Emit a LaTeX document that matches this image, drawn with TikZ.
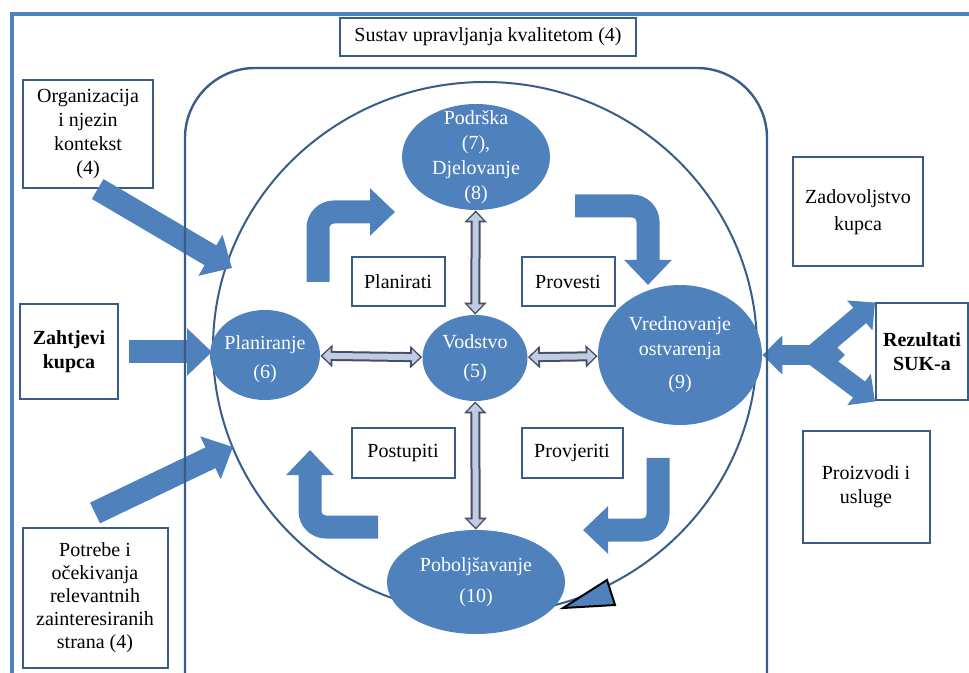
\documentclass[tikz,border=0pt]{standalone}
\usepackage{fontspec}
\setmainfont{Liberation Serif}
\usetikzlibrary{arrows.meta}
\usetikzlibrary{shapes.geometric}
\tikzset{>=latex}
\definecolor{qmsblue}{RGB}{79,129,189}
\definecolor{qmsdark}{RGB}{56,93,138}
\definecolor{qmslight}{RGB}{190,205,228}
\definecolor{qmsgrey}{RGB}{70,78,98}
\tikzstyle{textbox}=[draw=qmsdark,line width=1pt,fill=white,align=center,inner sep=2pt,font=\fontsize{10}{12}\selectfont]
\tikzstyle{boldbox}=[textbox,font=\fontsize{10}{12}\selectfont\bfseries]
\tikzstyle{bubble}=[ellipse,fill=qmsblue,inner sep=0pt]
\tikzstyle{bubbletext}=[text=white,align=center,font=\fontsize{10}{12.5}\selectfont]
\tikzstyle{fatarrow}=[draw=qmsblue,line width=11.5pt,-{Triangle[width=23pt,length=12.5pt]}]
\tikzstyle{forkarrow}=[draw=qmsblue,line width=10pt,-{Triangle[width=19pt,length=10pt]}]
\tikzstyle{thinout}=[draw=qmsgrey,line width=5pt,{Triangle[width=11pt,length=6pt]}-{Triangle[width=11pt,length=6pt]}]
\tikzstyle{thinin}=[draw=qmslight,line width=3pt,shorten <=1.1pt,shorten >=1.1pt,{Triangle[width=7.5pt,length=4pt]}-{Triangle[width=7.5pt,length=4pt]}]

\begin{document}
\begin{tikzpicture}[x=0.5pt,y=-0.5pt]
    \fill[white] (0,0) rectangle (969,673);
    \useasboundingbox (0,0) rectangle (969,673);

    % Outer frame and the big cycle
    \draw[qmsblue,line width=2pt] (969,14) -- (12,14) -- (12,673);
    \draw[qmsdark,line width=1pt] (485,348) ellipse [x radius=136pt,y radius=133pt];
    \filldraw[fill=qmsblue,draw=black,line width=1pt] (563,608) -- (607,580) -- (615,605) -- cycle;

    % Boxes
    \node[textbox,minimum width=148pt,minimum height=19pt] (sustav) at (488,37) {Sustav upravljanja kvalitetom (4)};
    \node[textbox,minimum width=65pt,minimum height=54pt] (org) at (88,134) {Organizacija\\i njezin\\kontekst\\(4)};
    \node[boldbox,minimum width=49pt,minimum height=47.5pt] (zahtjevi) at (69,352) {Zahtjevi\\kupca};
    \node[textbox,minimum width=72.5pt,minimum height=70pt,font=\fontsize{10}{11.5}\selectfont] (potrebe) at (95,598) {Potrebe i\\očekivanja\\relevantnih\\zainteresiranih\\strana (4)};
    \node[textbox,minimum width=65pt,minimum height=54.5pt,font=\fontsize{10}{13.5}\selectfont] (zadovoljstvo) at (858,212) {Zadovoljstvo\\kupca};
    \node[boldbox,minimum width=46pt,minimum height=48.5pt] (rezultati) at (922,352) {Rezultati\\SUK-a};
    \node[textbox,minimum width=63.5pt,minimum height=55.5pt] (proizvodi) at (866,487) {Proizvodi i\\usluge};
    \node[textbox,minimum width=46.5pt,minimum height=24.5pt] (planirati) at (398,282) {Planirati};
    \node[textbox,minimum width=46.5pt,minimum height=24.5pt] (provesti) at (568,282) {Provesti};
    \node[textbox,minimum width=51.5pt,minimum height=25pt] (postupiti) at (403,453) {Postupiti};
    \node[textbox,minimum width=50.5pt,minimum height=25pt] (provjeriti) at (572,453) {Provjeriti};

    % Ellipses
    \node[bubble,minimum width=74pt,minimum height=53pt,label={[bubbletext]center:{Podrška\\(7),\\Djelovanje\\(8)}}] (podrska) at (476,157) {};
    \node[bubble,minimum width=55pt,minimum height=45pt,label={[bubbletext,yshift=-2pt]center:{Planiranje\\[2pt](6)}}] (planiranje) at (265,355) {};
    \node[bubble,minimum width=52.5pt,minimum height=43pt,label={[bubbletext]center:{Vodstvo\\[2pt](5)}}] (vodstvo) at (475,358) {};
    \node[bubble,minimum width=82pt,minimum height=70pt,label={[bubbletext]center:{Vrednovanje\\ostvarenja\\[4pt](9)}}] (vrednovanje) at (680,355) {};
    \node[bubble,minimum width=89pt,minimum height=52pt,label={[bubbletext]center:{Poboljšavanje\\[3pt](10)}}] (poboljsavanje) at (476,582) {};

    % Arrows between the ellipses
    \foreach \a/\b in {podrska/vodstvo,vodstvo/poboljsavanje,planiranje/vodstvo,vodstvo/vrednovanje}{
        \draw[thinout] (\a) -- (\b);
        \draw[thinin] (\a) -- (\b);
    }

    % Turning arrows of the cycle
    \draw[fatarrow,rounded corners=8pt] (318,282) |- (395,212);
    \draw[fatarrow,rounded corners=8pt] (575,206) -| (648,285);
    \draw[fatarrow,rounded corners=8pt] (658,458) |- (583,530);
    \draw[fatarrow,rounded corners=8pt] (378,527) -| (310,450);

    % Inputs
    \coordinate (orgtip) at (232,268);
    \coordinate (zahtip) at (212,352);
    \coordinate (pottip) at (233,447);
    \draw[fatarrow] (org.-80) -- (orgtip);
    \draw[fatarrow,shorten <=5pt] (zahtjevi.east) -- (zahtip);
    \draw[fatarrow] ([yshift=7pt]potrebe.north) -- (pottip);

    % Outputs
    \coordinate (rezhub) at (845,355);
    \coordinate (rezfork) at (813,355);
    \draw[forkarrow] (rezfork) -- (rezultati.north west);
    \draw[forkarrow] (rezfork) -- (rezultati.south west);
    \draw[forkarrow,{Triangle[width=19pt,length=10pt]}-{Triangle[width=19pt,length=10pt]}] (vrednovanje.east) -- (rezhub);

    % Rounded frame of the system
    \draw[qmsdark,line width=1.2pt,rounded corners=35pt] (185,673) -- (185,68) -- (767,68) -- (767,673);
\end{tikzpicture}
\end{document}
